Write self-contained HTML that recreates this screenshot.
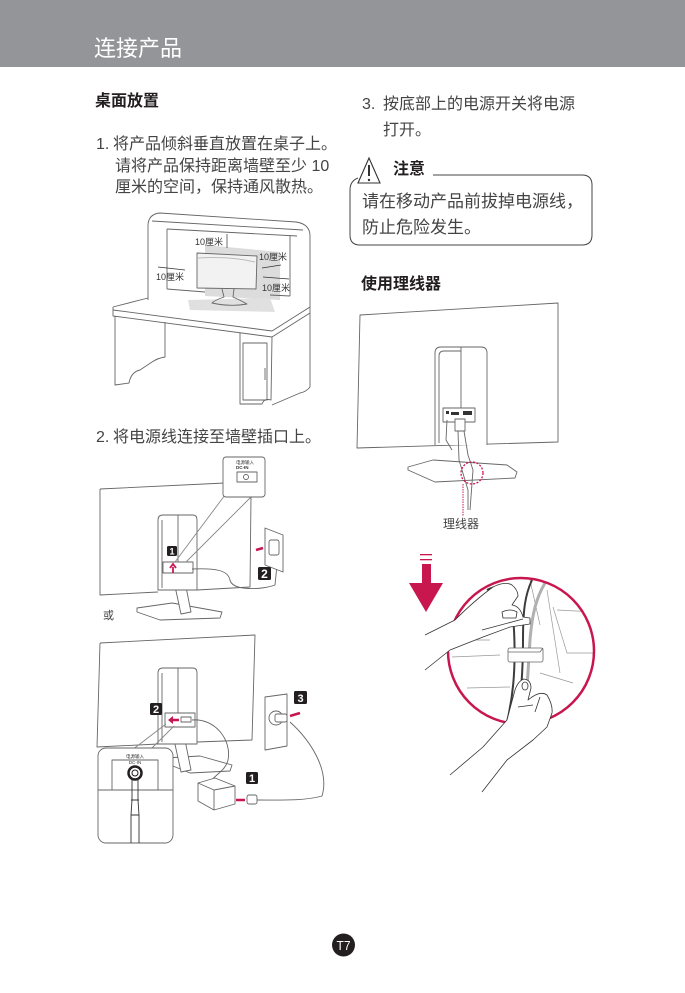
<!DOCTYPE html>
<html><head><meta charset="utf-8">
<style>
html,body{margin:0;padding:0;background:#fff;}
body{width:685px;height:993px;position:relative;overflow:hidden;font-family:"Liberation Sans","Noto Sans CJK SC",sans-serif;}
.t{position:absolute;white-space:nowrap;color:#444;font-size:16px;line-height:22px;}
.h{color:#231f20;font-weight:bold;}
#hdr{position:absolute;left:0;top:0;width:685px;height:67px;background:#939598;}
#ttl{position:absolute;left:94px;top:34px;font-size:22px;line-height:30px;color:#fff;white-space:nowrap;}
svg{position:absolute;left:0;top:0;}
</style></head><body>
<div id="hdr"></div>
<div id="ttl">连接产品</div>

<div class="t h" style="left:95px;top:91px;">桌面放置</div>
<div class="t" style="left:96px;top:134px;">1.</div>
<div class="t" style="left:113px;top:134px;">将产品倾斜垂直放置在桌子上。</div>
<div class="t" style="left:115px;top:156px;">请将产品保持距离墙壁至少 10</div>
<div class="t" style="left:115px;top:177px;">厘米的空间，保持通风散热。</div>
<div class="t" style="left:96px;top:427px;">2.</div>
<div class="t" style="left:113px;top:427px;">将电源线连接至墙壁插口上。</div>

<div class="t" style="left:362px;top:94px;">3.</div>
<div class="t" style="left:383px;top:94px;">按底部上的电源开关将电源</div>
<div class="t" style="left:383px;top:120px;">打开。</div>
<div class="t h" style="left:393px;top:159px;">注意</div>
<div class="t" style="left:362px;top:190px;font-size:17px;line-height:24px;">请在移动产品前拔掉电源线，</div>
<div class="t" style="left:362px;top:216px;font-size:17px;line-height:24px;">防止危险发生。</div>
<div class="t h" style="left:361px;top:274px;">使用理线器</div>
<div class="t" style="left:443px;top:516px;font-size:12px;line-height:16px;color:#444;">理线器</div>
<div class="t" style="left:103px;top:608px;font-size:11px;line-height:16px;color:#444;">或</div>

<svg width="685" height="993" viewBox="0 0 685 993" xmlns="http://www.w3.org/2000/svg">
<!-- caution box -->
<g fill="none" stroke="#444" stroke-width="1">
<path d="M433,175 L582,175 Q592,175 592,185 L592,235 Q592,245 582,245 L360,245 Q350,245 350,235 L350,190 Q350,181 358,178"/>
</g>
<polygon points="369,158 380,183 358,183" fill="#fff" stroke="#333" stroke-width="1.1"/>
<line x1="369" y1="165" x2="369" y2="176" stroke="#333" stroke-width="2"/>
<circle cx="369" cy="180" r="1.2" fill="#333"/>

<!-- DESK -->
<g fill="none" stroke="#666" stroke-width="0.9" stroke-linejoin="round">
<polygon points="205,245 280,252 280,300 205,296" fill="#dcdcdc" stroke="none"/>
<polygon points="188,300 270,298 275,312 190,310" fill="#e0e0e0" stroke="none"/>
<path d="M148,300 L148,226 Q148,214 160,213 L296,222 Q310,224 310,236 L310,307"/>
<path d="M152,221 L303,230"/>
<path d="M167,229 L297,236"/>
<path d="M167,229 L167,289"/>
<path d="M290,236 L290,296"/>
<path d="M167,289 L205,292 M270,295 L290,296"/>
<path d="M113,307 L148,298" />
<path d="M113,307 L113,316 L272,337 L310,313 L310,307 L272,331 L113,310"/>
<path d="M115,316 L115,385 L129,383 Q131,372 140,370 L152,362 Q158,358 165,357 L165,322"/>
<path d="M240,333 L240,404 L262,404 Q264,398 271,400 L272,337"/>
<path d="M272,405 L300,393 Q306,392 310,387 L310,313"/>
<rect x="243" y="343" width="24" height="57"/>
<line x1="265" y1="368" x2="265" y2="380"/>
<polygon points="197,253 257,256 256,289 197,288" fill="#f2f2f2"/>
<path d="M198,258 Q230,256 255,262" stroke="#bbb"/>
<path d="M222,289 L224,297 Q215,300 212,303 Q230,307 247,304 Q240,300 233,297 L234,289"/>
</g>
<g font-family="Liberation Sans,Noto Sans CJK SC,sans-serif" font-size="9" fill="#333">
<text x="195" y="245">10厘米</text>
<text x="259" y="260">10厘米</text>
<text x="156" y="280">10厘米</text>
<text x="262" y="291">10厘米</text>
</g>
<g stroke="#333" stroke-width="0.7">
<line x1="227" y1="234" x2="227" y2="248"/>
<line x1="262" y1="268" x2="281" y2="265"/>
<line x1="158" y1="267" x2="185" y2="270"/>
<line x1="263" y1="277" x2="289" y2="279"/>
</g>

<!-- MONITOR 1 -->
<g fill="#fff" stroke="#666" stroke-width="0.9" stroke-linejoin="round">
<path d="M100,489 L225,483 M251,497 L250,587 L197,590 M158,592 L100,595 L100,489" fill="none"/>
<polygon points="137,608 172,603 222,612 220,618 160,620 137,612"/>
<polygon points="173,577 184,577 191,612 181,614"/>
<path d="M158,590 L158,520 Q158,515 163,515 L193,515 Q197,515 197,520 L197,590 Z"/>
<path d="M162,588 L162,520 M178,515 L178,562" fill="none"/>
<rect x="163" y="562" width="30" height="11"/>
<path d="M225,495 L175,562 M251,497 L186,562" fill="none" stroke="#888"/>
<rect x="223" y="457" width="42" height="40" rx="3"/>
<rect x="237" y="472" width="20" height="10" fill="none"/>
<circle cx="246" cy="477" r="2.5"/>
<path d="M192,569 C215,568 228,570 230,580 C232,591 262,590 275,585 L277,565" fill="none"/>
<polygon points="265,528 283,535 283,572 265,565"/>
<rect x="269" y="540" width="10" height="15" rx="2"/>
</g>
<g font-family="Liberation Sans,Noto Sans CJK SC,sans-serif" fill="#333" font-size="4.5">
<text x="236" y="464">电源输入</text>
<text x="236" y="469" font-weight="bold">DC-IN</text>
</g>
<path d="M173,573 L173,567 M170,568 L173,564 L176,568" stroke="#c8174f" stroke-width="1.8" fill="none"/>
<path d="M256,550 L263,548" stroke="#c8174f" stroke-width="2.5"/>
<rect x="167" y="546" width="10" height="10" rx="1.5" fill="#231f20"/>
<text x="172" y="554.5" font-family="Liberation Sans,sans-serif" font-size="9" font-weight="bold" fill="#fff" text-anchor="middle">1</text>
<rect x="258" y="567" width="13" height="13" rx="1.5" fill="#231f20"/>
<text x="264.5" y="578" font-family="Liberation Sans,sans-serif" font-size="12" font-weight="bold" fill="#fff" text-anchor="middle">2</text>

<!-- MONITOR 2 -->
<g fill="#fff" stroke="#666" stroke-width="0.9" stroke-linejoin="round">
<path d="M100,643 L255,635 L252,740 L197,742 M158,744 L97,747 L100,643" fill="none"/>
<polygon points="165,758 200,756 232,765 230,771 190,773 168,764"/>
<polygon points="173,735 184,735 191,770 181,772"/>
<path d="M158,744 L158,673 Q158,668 163,668 L193,668 Q197,668 197,673 L197,744 Z"/>
<path d="M162,742 L162,673 M178,668 L178,713" fill="none"/>
<rect x="165" y="713" width="30" height="14"/>
<rect x="181" y="717" width="10" height="5"/>
<path d="M192,720 C215,718 232,740 228,760 C226,770 215,775 210,782" fill="none"/>
<polygon points="198,783 215,778 235,786 235,804 214,810 198,801"/>
<path d="M198,783 L214,790 L235,786 M214,790 L214,810" fill="none"/>
<rect x="247" y="795" width="10" height="9" rx="2"/>
<path d="M257,800 C280,800 305,801 322,796 C330,770 310,740 290,722" fill="none"/>
<polygon points="265,697 287,694 287,746 265,750"/>
<circle cx="276" cy="718" r="7"/>
<rect x="275" y="714" width="12" height="8" rx="2"/>
<path d="M132,750 L166,724 M152,748 L174,726" fill="none" stroke="#888"/>
<rect x="98" y="748" width="75" height="95" rx="8"/>
<path d="M112,790 L112,760 L158,760 L158,790 M98,790 L173,790" fill="none"/>
<circle cx="135" cy="773" r="6.5" stroke="#231f20" stroke-width="2.5"/>
<circle cx="135" cy="773" r="3" stroke="#231f20" stroke-width="1"/>
<path d="M132,779 L132,800 L131,815 L131,843 M138,779 L138,800 L139,815 L139,843 M131,800 L139,800 M131,815 L139,815" fill="none" stroke="#333"/>
</g>
<g font-family="Liberation Sans,Noto Sans CJK SC,sans-serif" fill="#333" font-size="4.5" text-anchor="middle">
<text x="135" y="758">电源输入</text>
<text x="135" y="764">DC-IN</text>
</g>
<path d="M170,720 L179,720" stroke="#c8174f" stroke-width="2.5"/>
<path d="M168,720 L173,716 L173,724 Z" fill="#c8174f"/>
<path d="M236,800 L245,800" stroke="#c8174f" stroke-width="2.5"/>
<path d="M290,716 L300,713" stroke="#c8174f" stroke-width="2.5"/>
<rect x="150" y="703" width="12" height="12" rx="1.5" fill="#231f20"/>
<text x="156" y="713" font-family="Liberation Sans,sans-serif" font-size="11" font-weight="bold" fill="#fff" text-anchor="middle">2</text>
<rect x="246" y="772" width="12" height="12" rx="1.5" fill="#231f20"/>
<text x="252" y="782" font-family="Liberation Sans,sans-serif" font-size="11" font-weight="bold" fill="#fff" text-anchor="middle">1</text>
<rect x="294" y="691" width="13" height="13" rx="1.5" fill="#231f20"/>
<text x="300.5" y="702" font-family="Liberation Sans,sans-serif" font-size="11" font-weight="bold" fill="#fff" text-anchor="middle">3</text>

<!-- RIGHT MONITOR -->
<g fill="#fff" stroke="#666" stroke-width="0.9" stroke-linejoin="round">
<polygon points="360,315 558,303 558,442 357,448"/>
<polygon points="408,467 433,460 507,465 517,472 515,478 435,482 408,470"/>
<path d="M435,445 L435,353 Q435,347 441,347 L481,347 Q487,347 487,353 L487,445"/>
<path d="M439,443 L439,356 Q439,351 444,351 L461,351 M461,347 L461,408" fill="none"/>
<rect x="443" y="408" width="32" height="14"/>
<rect x="455" y="419" width="10" height="12"/>
<path d="M447,420 L446,440 L452,450 M458,431 L459,460 L468,490 L468,510 M464,431 L468,455 L473,470 L470,510" fill="none"/>
</g>
<g fill="#333"><rect x="446" y="411" width="3" height="3"/><rect x="451" y="412" width="8" height="3"/><rect x="463" y="411" width="9" height="4"/></g>
<circle cx="472" cy="473" r="11" fill="none" stroke="#c8174f" stroke-width="1.3" stroke-dasharray="2,1.5"/>
<line x1="463" y1="484" x2="463" y2="516" stroke="#c8174f" stroke-width="1" stroke-dasharray="1.5,1"/>

<!-- ARROW + CIRCLE + HANDS -->
<g fill="#c8174f">
<rect x="420" y="554" width="12" height="1.3"/>
<rect x="420" y="559" width="12" height="1.3"/>
<rect x="422" y="564" width="9" height="20"/>
<polygon points="409,583 443,583 426,612"/>
</g>
<clipPath id="cc"><circle cx="521" cy="651" r="73"/></clipPath>
<g clip-path="url(#cc)" fill="none" stroke="#999" stroke-width="0.7">
<path d="M452,657 L500,655 M467,688 L510,687 M553,607 Q560,630 567,653 L595,653 M557,610 L595,612 M540,673 L573,683 M547,590 L560,673 M530,580 L540,625 M448,640 L490,640"/>
<path d="M487,590 C505,580 512,600 514,630 C516,670 513,700 505,730" stroke="#3c3c3c" stroke-width="2"/>
<path d="M532,580 C525,595 523,610 523,640 C523,670 521,700 516,730" stroke="#3c3c3c" stroke-width="2"/>
<path d="M545,583 C536,598 532,615 530,640 C528,670 526,700 525,720" stroke="#b0b0b0" stroke-width="3"/>
</g>
<g fill="#fff" stroke="#666" stroke-width="0.8">
<rect x="508" y="648" width="35" height="14" rx="2"/>
<path d="M508,652 L540,652 L543,648" fill="none"/>
</g>
<circle cx="521" cy="651" r="73" fill="none" stroke="#c8174f" stroke-width="2.5"/>
<g fill="#fff" stroke="#333" stroke-width="0.8" stroke-linejoin="round">
<path d="M425,635 L455,620 Q475,600 493,587 Q505,581 512,585 Q518,590 518,596 L512,605 Q520,606 523,617 L530,618 L530,624 L510,627 L483,637 L450,650 L425,670"/>
<path d="M502,612 Q510,608 517,612 L516,618 L503,618 Z" fill="none"/>
<path d="M482,630 L523,619" fill="none"/>
<path d="M450,775 L483,747 L507,720 L515,690 Q518,681 524,679 Q531,680 531,688 L528,700 Q540,690 547,695 Q553,705 552,713 L547,727 L533,740 L507,760 L482,792"/>
<ellipse cx="525" cy="686" rx="3" ry="4" fill="none"/>
<path d="M518,707 L533,705 M540,697 L535,712" fill="none"/>
</g>

<!-- page number -->
<circle cx="343.5" cy="945" r="11.5" fill="#231f20"/>
<text x="343.5" y="950" font-family="Liberation Sans,sans-serif" font-size="13" fill="#fff" text-anchor="middle" textLength="14" lengthAdjust="spacingAndGlyphs">T7</text>
</svg>
</body></html>
